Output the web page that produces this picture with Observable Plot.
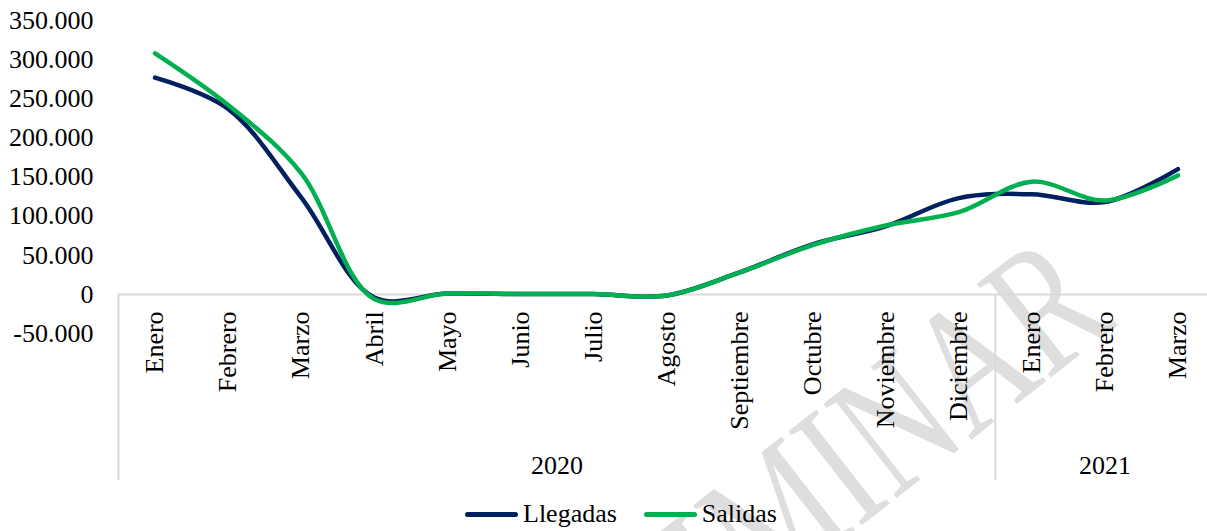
<!DOCTYPE html>
<html>
<head>
<meta charset="utf-8">
<script src="https://cdn.jsdelivr.net/npm/d3@7"></script>
<script src="https://cdn.jsdelivr.net/npm/@observablehq/plot@0.6"></script>
<style>
  html, body { margin: 0; padding: 0; background: #fff; }
  #wrap { position: relative; width: 1207px; height: 531px; overflow: hidden; font-family: "Liberation Serif", "Times New Roman", serif; }
  #wm { position: absolute; left: 0; top: 0; z-index: 0; }
  #chart { position: absolute; left: 0; top: 0; z-index: 1; }
  #legend { position: absolute; left: 0; top: 497px; width: 1207px; height: 34px; display: flex; justify-content: center; align-items: center; padding-left: 35px; box-sizing: border-box; z-index: 1; font-size: 26px; color: #000; }
  .item { display: flex; align-items: center; }
  .sw { width: 53px; height: 5px; border-radius: 3px; margin-right: 5px; }
  .item + .item { margin-left: 27px; }
</style>
</head>
<body>
<div id="wrap">
  <svg id="wm" width="1207" height="531"><text text-anchor="end" transform="translate(1118 325) rotate(-38) scale(1 1.35)" font-family="Liberation Serif, Times New Roman, serif" font-size="135" fill="#dedede">PRELIMINAR</text></svg>
  <div id="chart"></div>
  <div id="legend"></div>
</div>
<script>
const months = ["Enero","Febrero","Marzo","Abril","Mayo","Junio","Julio","Agosto","Septiembre","Octubre","Noviembre","Diciembre","Enero","Febrero","Marzo"];
const years = ["2020","2020","2020","2020","2020","2020","2020","2020","2020","2020","2020","2020","2021","2021","2021"];
const llegadas = [277000, 237000, 124000, -4000, 1000, 500, 500, -1500, 28000, 64000, 87000, 123000, 128000, 118000, 160000];
const salidas  = [308000, 242000, 155000, -6000, 1000, 500, 500, -1500, 28000, 63000, 88000, 105000, 144000, 120000, 152000];
const seriesNames = ["Llegadas", "Salidas"];
const seriesColors = ["#002060", "#00B050"];
const yTicks = [-50000, 0, 50000, 100000, 150000, 200000, 250000, 300000, 350000];

const rows = [];
seriesNames.forEach((s, k) => {
  const vals = k === 0 ? llegadas : salidas;
  vals.forEach((v, i) => rows.push({series: s, i, value: v}));
});
const monthRows = months.map((m, i) => ({i, m}));
// year groups
const groups = [];
years.forEach((y, i) => {
  const g = groups[groups.length - 1];
  if (g && g.year === y) g.end = i; else groups.push({year: y, start: i, end: i});
});
const yearLabels = groups.map(g => ({x: (g.start + g.end) / 2, year: g.year}));
const boundaries = [-0.5, ...groups.slice(1).map(g => g.start - 0.5)];

const fmt = v => d3.format(",")(v).replace(/,/g, ".").replace("−", "-");
const yBottom = -238000;

const chart = Plot.plot({
  width: 1207,
  height: 497,
  marginTop: 0, marginBottom: 0, marginLeft: 118, marginRight: 0,
  style: {fontFamily: "Liberation Serif, Times New Roman, serif", fontSize: "26px", color: "#000", background: "transparent", overflow: "visible"},
  x: {type: "linear", domain: [-0.5, months.length - 0.5], range: [118, 1214], axis: null},
  y: {domain: [-50000, 350000], range: [333, 20]},
  color: {domain: seriesNames, range: seriesColors},
  marks: [
    Plot.axisY({ticks: yTicks, tickFormat: fmt, tickSize: 0, tickPadding: 25, label: null, fontSize: 26}),
    Plot.ruleY([0], {stroke: "#d9d9d9", strokeWidth: 2}),
    Plot.ruleX(boundaries, {y1: 0, y2: yBottom, stroke: "#d9d9d9", strokeWidth: 2}),
    Plot.text(monthRows, {x: "i", y: 0, text: "m", rotate: -90, textAnchor: "end", lineAnchor: "middle", dy: 17, fontSize: 26, fill: "#000", fontFamily: "Liberation Serif, Times New Roman, serif"}),
    Plot.text(yearLabels, {x: "x", y: 0, text: "year", dy: 171, lineAnchor: "middle", fontSize: 26, fill: "#000", fontFamily: "Liberation Serif, Times New Roman, serif"}),
    Plot.line(rows, {x: "i", y: "value", z: "series", stroke: "series", strokeWidth: 4.5, curve: "catmull-rom", strokeLinecap: "round", strokeLinejoin: "round"})
  ]
});
document.getElementById("chart").appendChild(chart);

const legend = document.getElementById("legend");
seriesNames.forEach((s, k) => {
  const it = document.createElement("div");
  it.className = "item";
  it.innerHTML = `<span class="sw" style="background:${seriesColors[k]}"></span><span>${s}</span>`;
  legend.appendChild(it);
});
</script>
</body>
</html>
